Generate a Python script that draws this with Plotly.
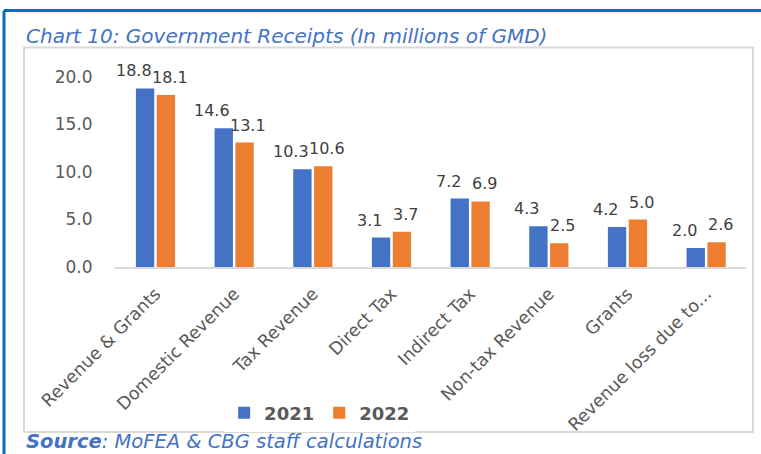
import plotly.graph_objects as go

categories = ["Revenue & Grants", "Domestic Revenue", "Tax Revenue", "Direct Tax",
              "Indirect Tax", "Non-tax Revenue", "Grants", "Revenue loss due to..."]
values_2021 = [18.8, 14.6, 10.3, 3.1, 7.2, 4.3, 4.2, 2.0]
values_2022 = [18.1, 13.1, 10.6, 3.7, 6.9, 2.5, 5.0, 2.6]
series_names = ["2021", "2022"]
y_ticks = [0, 5, 10, 15, 20]

W, H = 761, 454
BLUE = "#4472C4"
ORANGE = "#ED7D31"
TXT = "#595959"
TITLE_BLUE = "#4472C4"

fig = go.Figure()
for name, vals, col in [(series_names[0], values_2021, BLUE), (series_names[1], values_2022, ORANGE)]:
    fig.add_trace(go.Bar(name=name, x=categories, y=vals, marker_color=col, marker_line_width=0))

# data labels (nudged sideways as in the reference)
for vals, dx in [(values_2021, -22), (values_2022, 14)]:
    for c, v in zip(categories, vals):
        fig.add_annotation(x=c, y=v, xref="x", yref="y", text=f"{v:.1f}", showarrow=False,
                           xanchor="center", yanchor="bottom", xshift=dx, yshift=6,
                           font=dict(family="DejaVu Sans", size=16, color="#404040"))

fig.update_layout(
    width=W, height=H,
    margin=dict(l=0, r=0, t=0, b=0, pad=0, autoexpand=False),
    paper_bgcolor="white", plot_bgcolor="white",
    barmode="group", bargap=0.47, bargroupgap=0.12,
    showlegend=True,
    legend=dict(orientation="h", x=0.42, y=1 - 413 / H, xanchor="center", yanchor="middle",
                font=dict(family="DejaVu Sans", size=18, color=TXT, weight="bold"),
                itemwidth=30, traceorder="normal"),
    xaxis=dict(domain=[113.5 / W, 745.5 / W], showline=True, linecolor="#D9D9D9", linewidth=1.5,
               showgrid=False, tickangle=-45, ticks="", ticklabelstandoff=8,
               tickfont=dict(family="DejaVu Sans", size=17.5, color=TXT)),
    yaxis=dict(domain=[1 - 267 / H, 1 - 77 / H], range=[0, 20], tickvals=y_ticks,
               tickformat=".1f", showgrid=False, showline=False, zeroline=False,
               ticklabelstandoff=20,
               tickfont=dict(family="DejaVu Sans", size=17, color=TXT)),
    font=dict(family="DejaVu Sans", color=TXT),
)

# frames
fig.add_shape(type="rect", xref="paper", yref="paper", x0=24 / W, x1=753 / W,
              y0=1 - 432 / H, y1=1 - 47.5 / H, line=dict(color="#D9D9D9", width=2), layer="below")
fig.add_shape(type="line", xref="paper", yref="paper", x0=4 / W, x1=1, y0=1 - 10.5 / H, y1=1 - 10.5 / H,
              line=dict(color="#0070C0", width=3))
fig.add_shape(type="line", xref="paper", yref="paper", x0=4 / W, x1=4 / W, y0=0, y1=1 - 10.5 / H,
              line=dict(color="#0070C0", width=3))

fig.add_annotation(xref="paper", yref="paper", x=24 / W, y=1 - 36 / H, xanchor="left", yanchor="middle",
                   text="<i>Chart 10: Government Receipts (In millions of GMD)</i>", showarrow=False,
                   font=dict(family="DejaVu Sans", size=20, color=TITLE_BLUE))
fig.add_annotation(xref="paper", yref="paper", x=24 / W, y=1 - 441 / H, xanchor="left", yanchor="middle",
                   text="<b><i>Source</i></b><i>: MoFEA &amp; CBG staff calculations</i>", showarrow=False,
                   font=dict(family="DejaVu Sans", size=19.5, color=TITLE_BLUE))

fig.write_html("out.html", config={"displayModeBar": False},
               post_script="document.body.style.margin='0';document.body.style.overflow='hidden';")
